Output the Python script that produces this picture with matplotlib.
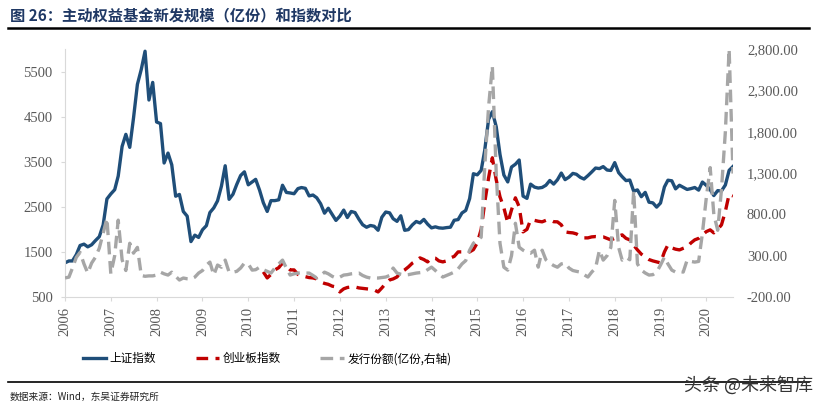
import matplotlib

matplotlib.use("Agg")
import matplotlib.pyplot as plt
import matplotlib.dates as mdates
import pandas as pd
from matplotlib.ticker import FuncFormatter

# Monthly data, Jan 2006 .. Aug 2020
sse = [
    1258, 1299, 1299, 1440, 1642, 1672, 1612, 1658, 1753, 1837, 2099, 2675,  # 2006
    2786, 2881, 3183, 3841, 4109, 3820, 4471, 5218, 5552, 5954, 4871, 5262,  # 2007
    4383, 4348, 3473, 3693, 3433, 2736, 2775, 2397, 2293, 1729, 1871, 1821,  # 2008
    1991, 2082, 2373, 2477, 2633, 2959, 3412, 2667, 2779, 2996, 3195, 3277,  # 2009
    2989, 3051, 3110, 2871, 2592, 2398, 2638, 2638, 2656, 2979, 2820, 2808,  # 2010
    2791, 2905, 2928, 2911, 2743, 2762, 2701, 2568, 2359, 2469, 2333, 2199,  # 2011
    2292, 2428, 2263, 2397, 2373, 2226, 2103, 2047, 2086, 2069, 1980, 2269,  # 2012
    2385, 2366, 2237, 2178, 2301, 1979, 1994, 2098, 2175, 2142, 2221, 2116,  # 2013
    2033, 2056, 2033, 2026, 2039, 2048, 2202, 2217, 2364, 2420, 2683, 3235,  # 2014
    3210, 3310, 3748, 4442, 4612, 4277, 3664, 3206, 3053, 3383, 3446, 3539,  # 2015
    2738, 2688, 3004, 2938, 2917, 2930, 2979, 3085, 3005, 3100, 3250, 3104,  # 2016
    3159, 3242, 3223, 3155, 3117, 3192, 3273, 3361, 3349, 3393, 3317, 3307,  # 2017
    3481, 3259, 3169, 3082, 3095, 2847, 2876, 2725, 2821, 2603, 2588, 2494,  # 2018
    2585, 2941, 3091, 3078, 2899, 2979, 2933, 2886, 2905, 2929, 2871, 3050,  # 2019
    2977, 2880, 2750, 2860, 2852, 2985, 3310, 3396,                          # 2020
]

N = None
chinext = [N] * 48 + [
    N, N, N, N, 1056, 922, 1000, 1100, 1150, 1256, 1180, 1100,               # 2010
    1100, 1000, 980, 950, 930, 922, 900, 833, 800, 780, 740, 722,            # 2011
    611, 680, 710, 722, 722, 700, 690, 680, 670, 656, 611, 700,              # 2012
    800, 878, 900, 944, 1050, 1100, 1167, 1250, 1300, 1367, 1330, 1278,      # 2013
    1367, 1360, 1300, 1278, 1300, 1367, 1400, 1500, 1500, 1500, 1500, 1550,  # 2014
    1700, 2000, 2589, 3144, 3589, 3100, 2722, 2478, 2144, 2433, 2700, 2500,  # 2015
    1944, 2000, 2211, 2200, 2180, 2167, 2200, 2210, 2170, 2167, 2100, 1944,  # 2016
    1930, 1922, 1900, 1850, 1811, 1811, 1833, 1840, 1833, 1833, 1800, 1767,  # 2017
    1800, 1850, 1878, 1800, 1767, 1650, 1544, 1450, 1389, 1330, 1300, 1278,  # 2018
    1256, 1500, 1656, 1589, 1560, 1544, 1580, 1611, 1700, 1767, 1800, 1878,  # 2019
    1950, 1989, 1922, 2000, 2100, 2400, 2780, 2740,                          # 2020
]

issuance = [
    30, 40, 150, 280, 340, 200, 89, 210, 282, 390, 571, 752,                 # 2006
    80, 300, 730, 250, 120, 450, 330, 400, 60, 50, 55, 55,                   # 2007
    65, 100, 80, 65, 100, 50, 5, 29, 20, 17, 40, 89,                         # 2008
    120, 186, 222, 65, 186, 160, 246, 100, 100, 110, 150, 210,               # 2009
    200, 125, 130, 160, 130, 110, 89, 150, 200, 246, 150, 65,                # 2010
    80, 89, 95, 89, 89, 60, 29, 60, 100, 80, 50, 29,                         # 2011
    40, 65, 70, 80, 85, 89, 60, 40, 29, 30, 29, 35,                          # 2012
    41, 60, 150, 89, 75, 65, 70, 80, 89, 95, 100, 130,                       # 2013
    161, 120, 80, 41, 60, 80, 101, 140, 200, 240, 366, 450,                  # 2014
    487, 523, 1366, 2100, 2595, 1300, 450, 160, 125, 300, 692, 402,          # 2015
    366, 340, 330, 366, 161, 366, 250, 210, 180, 160, 200, 210,              # 2016
    150, 120, 110, 101, 70, 41, 100, 150, 366, 246, 300, 400,                # 2017
    969, 400, 246, 282, 250, 1089, 200, 125, 90, 65, 70, 100,                # 2018
    186, 282, 200, 125, 101, 110, 101, 246, 230, 222, 230, 571,              # 2019
    1000, 1366, 800, 607, 1100, 1800, 2800, 1294,                            # 2020
]

dates = pd.date_range("2006-01-01", periods=len(sse), freq="MS")

left_ticks = [500, 1500, 2500, 3500, 4500, 5500]
right_ticks = [-200, 300, 800, 1300, 1800, 2300, 2800]

BLUE = "#1F4E79"
RED = "#C00000"
GREY = "#A6A6A6"
TICK = "#595959"
NAVY = "#1F3864"
SERIF = ["Liberation Serif", "Noto Sans CJK SC"]
CJK = ["Noto Sans CJK SC", "DejaVu Sans"]

fig = plt.figure(figsize=(8.17, 4.13), dpi=100)
ax = fig.add_axes([0.0796, 0.281, 0.8176, 0.60])
ax2 = ax.twinx()

l1, = ax.plot(dates, sse, color=BLUE, lw=2.4, solid_joinstyle="round")
l2, = ax.plot(dates, chinext, color=RED, lw=2.4, dashes=(3.5, 2.2))
l3, = ax2.plot(dates, issuance, color=GREY, lw=2.4, dashes=(3.8, 2.0))

ax.set_ylim(500, 6000)
ax2.set_ylim(-200, 2800)
ax.set_xlim(dates[0], dates[-1])
ax.set_yticks(left_ticks)
ax2.set_yticks(right_ticks)
ax2.yaxis.set_major_formatter(FuncFormatter(lambda v, _: f"{v:,.2f}"))

ax.xaxis.set_major_locator(mdates.YearLocator())
ax.xaxis.set_major_formatter(mdates.DateFormatter("%Y"))

for a in (ax, ax2):
    for s in ("top", "right", "left", "bottom"):
        a.spines[s].set_visible(False)
ax.spines["left"].set_visible(True)
ax.spines["bottom"].set_visible(True)
ax.spines["left"].set_color("#D9D9D9")
ax.spines["bottom"].set_color("#D9D9D9")

ax.tick_params(axis="y", length=3, color="#D9D9D9", labelsize=10.5,
               labelcolor=TICK, pad=6)
ax.tick_params(axis="x", length=3, color="#D9D9D9", labelsize=10.5,
               labelcolor=TICK, rotation=90, pad=4)
ax2.tick_params(axis="y", length=0, labelsize=10.5, labelcolor=TICK, pad=10)
for lab in ax.get_xticklabels() + ax.get_yticklabels() + ax2.get_yticklabels():
    lab.set_family(SERIF)

fig.text(0.012, 0.962, "图 26：主动权益基金新发规模（亿份）和指数对比",
         fontsize=11, fontweight="bold", color=NAVY, family=CJK,
         ha="left", va="center")
fig.add_artist(plt.Line2D([0.01, 0.99], [0.933, 0.933], color="black", lw=1.8,
                          transform=fig.transFigure))
fig.add_artist(plt.Line2D([0.01, 0.99], [0.076, 0.076], color="black", lw=1.2,
                          transform=fig.transFigure))

fig.legend([l1, l2, l3], ["上证指数", "创业板指数", "发行份额(亿份,右轴)"],
           loc="center", bbox_to_anchor=(0.327, 0.131), ncol=3, frameon=False,
           prop={"family": CJK, "size": 8.4}, handlelength=2.0,
           handletextpad=0.3, columnspacing=3.4)

fig.text(0.012, 0.038, "数据来源：Wind，东吴证券研究所", fontsize=7,
         family=CJK, color="#222222", ha="left", va="center")
fig.text(0.995, 0.068, "头条 @未来智库", fontsize=13, family=CJK,
         color="#333333", ha="right", va="center")

fig.savefig("out.png", dpi=100)
